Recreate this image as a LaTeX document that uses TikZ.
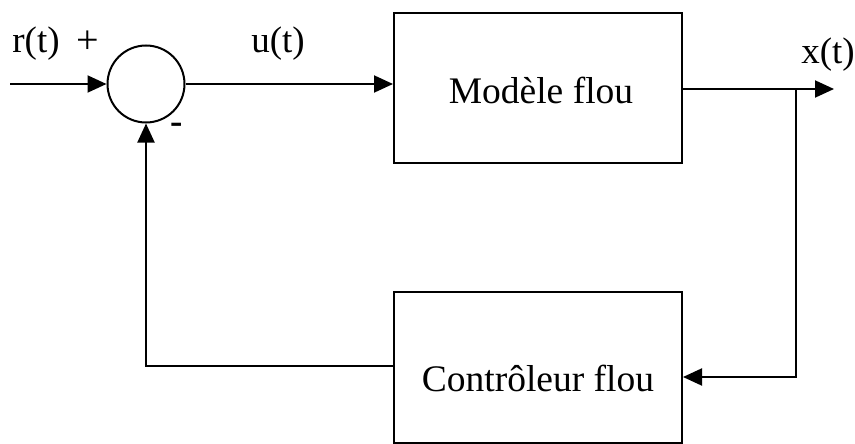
\documentclass[tikz,border=0pt]{standalone}
\usepackage{fontspec}
\setmainfont{Liberation Serif}
\usetikzlibrary{arrows.meta}

\tikzset{
  wire/.style={line width=2pt},
  flow/.style={wire, -{Triangle[length=19pt,width=17pt]}},
  blockbox/.style={draw, line width=2pt, minimum width=288pt, minimum height=150pt, inner sep=0pt},
  sumnode/.style={draw, circle, line width=2pt, minimum size=77pt, inner sep=0pt},
  sig/.style={font=\fontsize{37}{40}\selectfont, inner sep=0pt},
  boxtext/.style={font=\fontsize{37.5}{42}\selectfont, inner sep=0pt}
}

\begin{document}
\begin{tikzpicture}[x=1pt, y=-1pt]
  \useasboundingbox (0,0) rectangle (855,444);

  % summing junction and the two fuzzy blocks
  \node[sumnode] (sum) at (146,84) {};
  \node[blockbox] (model) at (538,88) {};
  \node[boxtext] (modeltext) at (541,90) {Modèle flou};
  \node[blockbox, minimum height=151pt] (ctrl) at (538,367.5) {};
  \node[boxtext] (ctrltext) at (538,378) {Contrôleur flou};

  % free ends and corners of the loop
  \coordinate (in) at (10,84);
  \coordinate (out) at (834,89);
  \coordinate (tap) at (796,89);
  \coordinate (tapdown) at (796,377);
  \coordinate (fbcorner) at (146,366);

  % signal labels
  \node[sig] (rlabel) at (36,44) {r(t)};
  \node[sig, font=\fontsize{40}{40}\selectfont] (plus) at (88,42) {+};
  \node[sig] (ulabel) at (278,44) {u(t)};
  \node[sig] (xlabel) at (828,55) {x(t)};
  \node[sig, font=\bfseries\fontsize{37}{40}\selectfont] (minus) at (177,128) {-};

  % forward path
  \draw[flow] (in) -- (sum.west);
  \draw[flow] (sum.east) -- (sum.east -| model.west);
  \draw[wire] (model.east |- out) -- (tap);
  \draw[flow] (tap) -- (out);

  % feedback path
  \draw[flow] (tap) -- (tapdown) -- (tapdown -| ctrl.east);
  \draw[flow] (fbcorner -| ctrl.west) -- (fbcorner) -- (sum.south);
\end{tikzpicture}
\end{document}
